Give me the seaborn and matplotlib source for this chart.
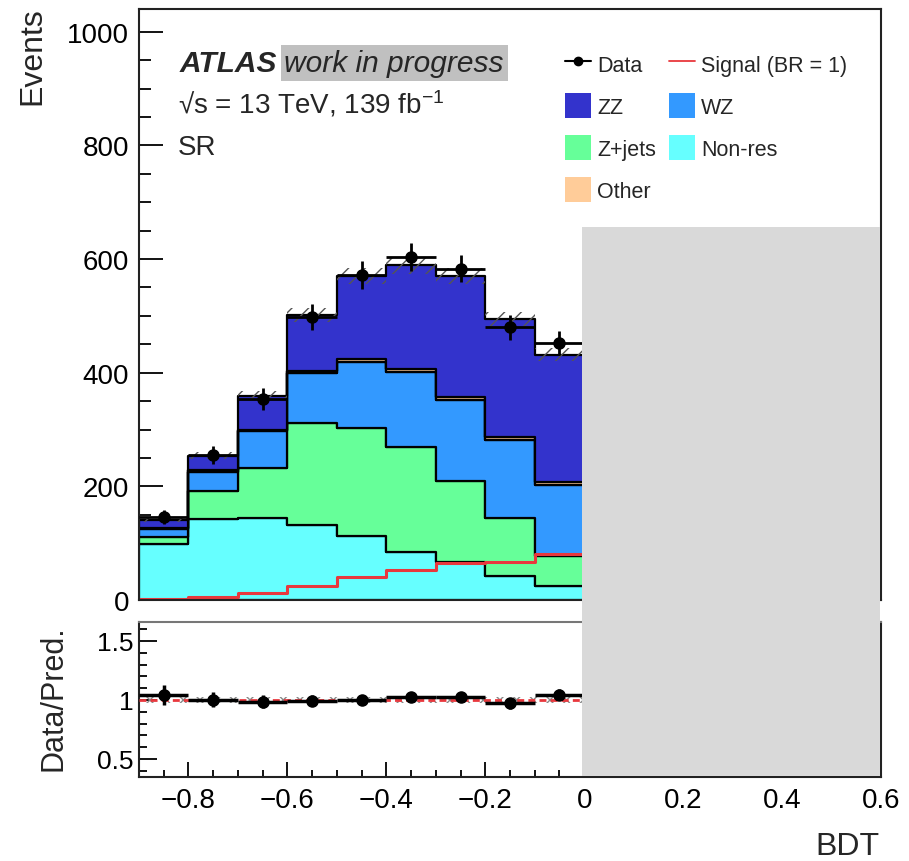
import numpy as np
import pandas as pd
import matplotlib
matplotlib.use("Agg")
import matplotlib.pyplot as plt
import seaborn as sns
from matplotlib.patches import Patch, Rectangle
from matplotlib.lines import Line2D
from matplotlib.ticker import MultipleLocator, FuncFormatter

# ---------------- data ----------------
bin_edges = [-0.9, -0.8, -0.7, -0.6, -0.5, -0.4, -0.3, -0.2, -0.1, 0.0,
             0.1, 0.2, 0.3, 0.4, 0.5, 0.6]
# bins that are visible (bins 0.0-0.5 are hidden under the grey box)
bin_centers = [-0.85, -0.75, -0.65, -0.55, -0.45, -0.35, -0.25, -0.15, -0.05, 0.55]
nonres = [99, 142, 144, 132, 112, 85, 66, 43, 24, 10]
zjets = [11, 49, 89, 179, 190, 185, 143, 102, 53, 15]
wz = [15, 35, 64, 89, 117, 132, 143, 137, 126, 47]
other = [2, 3, 3, 3, 5, 5, 5, 5, 5, 3]
zz = [13, 25, 59, 98, 146, 182, 213, 207, 224, 134]
signal = [2, 6, 13, 25, 40, 53, 65, 67, 81, 120]

data_x = [-0.85, -0.75, -0.65, -0.55, -0.45, -0.35, -0.25, -0.15, -0.05]
data_y = [146, 255, 354, 498, 572, 603, 583, 480, 452]

processes = ["ZZ", "Other", "WZ", "Z+jets", "Non-res"]   # top -> bottom of stack
colors = {"ZZ": "#3333cc", "WZ": "#3399ff", "Z+jets": "#66ff99",
          "Non-res": "#66ffff", "Other": "#ffcc99"}
rel_unc = 0.025

# ---------------- style ----------------
sns.set_style("ticks")
plt.rcParams["font.family"] = ["Liberation Sans", "DejaVu Sans"]
plt.rcParams["mathtext.fontset"] = "custom"
plt.rcParams["mathtext.rm"] = "Liberation Sans"
plt.rcParams["mathtext.it"] = "Liberation Sans:italic"
plt.rcParams["mathtext.bf"] = "Liberation Sans:bold"
plt.rcParams["hatch.linewidth"] = 1.0

W, H = 909, 862
fig = plt.figure(figsize=(W / 100, H / 100), dpi=100)
fig.patch.set_facecolor("white")

def px_rect(l, t, r, b):
    return [l / W, 1 - b / H, (r - l) / W, (b - t) / H]

ax = fig.add_axes(px_rect(139, 10, 881, 601))
rax = fig.add_axes(px_rect(139, 623, 881, 778))

# ---------------- stacked backgrounds ----------------
comp = {"Non-res": nonres, "Z+jets": zjets, "WZ": wz, "Other": other, "ZZ": zz}
rows = []
for p in processes:
    for c, v in zip(bin_centers, comp[p]):
        rows.append({"BDT": c, "Events": v, "process": p})
df = pd.DataFrame(rows)

sns.histplot(data=df, x="BDT", weights="Events", hue="process",
             hue_order=processes, palette=colors, bins=bin_edges,
             multiple="stack", element="step", fill=True, alpha=1,
             edgecolor="black", linewidth=1.6, legend=False, ax=ax)

# signal
sns.histplot(x=bin_centers, weights=signal, bins=bin_edges, element="step",
             fill=False, color="#e8383d", linewidth=2.2, ax=ax)

# uncertainty band on total prediction (visible bins)
total = np.array(nonres) + np.array(zjets) + np.array(wz) + np.array(other) + np.array(zz)
nvis = len(data_x)
tot_vis = total[:nvis]
xe = np.array(bin_edges[:nvis + 1])
lo = np.append(tot_vis * (1 - rel_unc), tot_vis[-1] * (1 - rel_unc))
hi = np.append(tot_vis * (1 + rel_unc), tot_vis[-1] * (1 + rel_unc))
ax.fill_between(xe, lo, hi, step="post", facecolor="none", edgecolor="#555555",
                hatch="//", linewidth=0, zorder=3)

# data
half_w = np.diff(bin_edges)[:nvis] / 2
dy = np.array(data_y, dtype=float)
ax.errorbar(data_x, dy, yerr=np.sqrt(dy), xerr=half_w, fmt="o", color="black",
            ms=8, elinewidth=2, capsize=0, zorder=6)

ax.set_xlim(-0.9, 0.6)
ax.set_ylim(0, 1040)
ax.set_xlabel("")
ax.set_ylabel("")
ax.xaxis.set_major_locator(MultipleLocator(0.2))
ax.xaxis.set_minor_locator(MultipleLocator(0.05))
ax.yaxis.set_major_locator(MultipleLocator(200))
ax.yaxis.set_minor_locator(MultipleLocator(50))
ax.tick_params(axis="both", which="both", direction="in", top=False, right=False,
               width=1.3, colors="black")
ax.tick_params(axis="y", which="major", length=17, labelsize=20, pad=7)
ax.tick_params(axis="y", which="minor", length=8.5)
ax.tick_params(axis="x", which="major", length=9.5, labelbottom=False)
ax.tick_params(axis="x", which="minor", length=5)
for s in ax.spines.values():
    s.set_linewidth(1.5)
    s.set_color("#222222")

# ---------------- ratio panel ----------------
ratio = dy / tot_vis
rerr = np.sqrt(dy) / tot_vis
rax.fill_between([bin_edges[0], bin_edges[-1]], [1 - rel_unc] * 2, [1 + rel_unc] * 2,
                 facecolor="none", edgecolor="#888888", hatch="xx", linewidth=0, zorder=2)
rax.axhline(1, color="#e8383d", lw=2, ls=(0, (2.5, 1.5)), zorder=3)
rax.errorbar(data_x, ratio, yerr=rerr, xerr=half_w, fmt="o", color="black",
             ms=8, elinewidth=2.5, capsize=0, zorder=5)
rax.set_xlim(-0.9, 0.6)
rax.set_ylim(0.347, 1.661)
rax.xaxis.set_major_locator(MultipleLocator(0.2))
rax.xaxis.set_minor_locator(MultipleLocator(0.05))
rax.xaxis.set_major_formatter(FuncFormatter(
    lambda v, p: ("%g" % (0 if abs(v) < 1e-9 else round(v, 2))).replace("-", "\u2212")))
rax.yaxis.set_minor_locator(MultipleLocator(0.1))
rax.set_yticks([0.5, 1.0, 1.5])
rax.set_yticklabels(["0.5", "1", "1.5"])
rax.tick_params(axis="both", which="both", direction="in", top=False, right=False,
                width=1.3, colors="black")
rax.tick_params(axis="y", which="major", length=13, labelsize=19, pad=4)
rax.tick_params(axis="y", which="minor", length=6)
rax.tick_params(axis="x", which="major", length=11, labelsize=20, pad=7)
rax.tick_params(axis="x", which="minor", length=5)
for s in rax.spines.values():
    s.set_linewidth(1.5)
    s.set_color("#222222")
rax.spines["top"].set_color("#777777")

# ---------------- texts ----------------
ax.text(0.0553, 0.8951, "ATLAS", transform=ax.transAxes, fontsize=21.5,
        fontweight="bold", fontstyle="italic", va="baseline", ha="left")
ax.text(0.196, 0.8951, "work in progress", transform=ax.transAxes, fontsize=21.5,
        fontstyle="italic", va="baseline", ha="left",
        bbox=dict(facecolor="#c0c0c0", edgecolor="none", boxstyle="square,pad=0.12"))
ax.text(0.0526, 0.8257, "\u221as = 13 TeV, 139 fb$^{-1}$", transform=ax.transAxes,
        fontsize=20, va="baseline", ha="left")
ax.text(0.0526, 0.7547, "SR", transform=ax.transAxes, fontsize=20,
        va="baseline", ha="left")

fig.text(32 / W, 1 - 7 / H, "Events", rotation=90, ha="center", va="top", fontsize=23)
fig.text(54 / W, 1 - 625 / H, "Data/Pred.", rotation=90, ha="center", va="top", fontsize=22)
fig.text(880 / W, 1 - 855 / H, "BDT", ha="right", va="baseline", fontsize=23)

# ---------------- legend ----------------
h_data = Line2D([], [], color="black", marker="o", ms=6, lw=1.5)
h_sig = Line2D([], [], color="#e8383d", lw=1.3)
h = {p: Patch(facecolor=colors[p], edgecolor="none") for p in processes}
handles = [h_data, h["ZZ"], h["Z+jets"], h["Other"], h_sig, h["WZ"], h["Non-res"]]
labels = ["Data", "ZZ", "Z+jets", "Other", "Signal (BR = 1)", "WZ", "Non-res"]
ax.legend(handles, labels, ncol=2, loc="upper left", bbox_to_anchor=(0.574, 0.929),
          frameon=False, fontsize=15.5, handlelength=1.2, handleheight=1.4,
          handletextpad=0.3, labelspacing=0.8, columnspacing=0.6, borderpad=0,
          borderaxespad=0)

# grey box covering the right part of the plot
fig.add_artist(Rectangle((582 / W, 1 - 777 / H), (880 - 582) / W, (777 - 228) / H,
                         transform=fig.transFigure, facecolor="#d9d9d9",
                         edgecolor="none", zorder=20))

fig.savefig("out.png", dpi=100)
